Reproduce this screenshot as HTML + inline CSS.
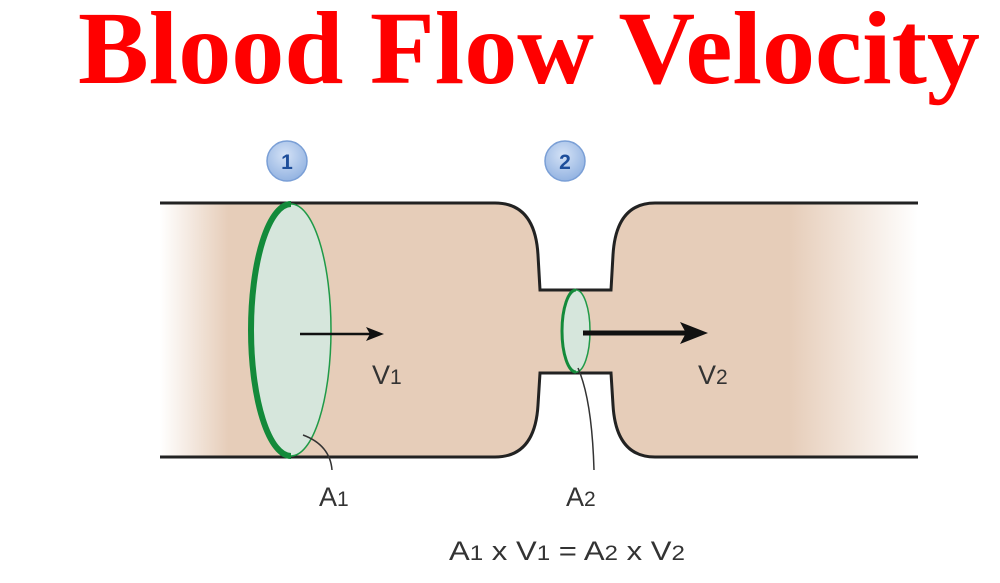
<!DOCTYPE html>
<html><head><meta charset="utf-8"><style>
html,body{margin:0;padding:0;background:#fff;}
svg{display:block;}
</style></head><body>
<svg width="1000" height="583" viewBox="0 0 1000 583" xmlns="http://www.w3.org/2000/svg">
<defs>
<linearGradient id="lg" x1="160" x2="918" y1="0" y2="0" gradientUnits="userSpaceOnUse">
<stop offset="0" stop-color="#fff"/>
<stop offset="0.09" stop-color="#e6cdb9"/>
<stop offset="0.83" stop-color="#e6cdb9"/>
<stop offset="1" stop-color="#fff"/>
</linearGradient>
<radialGradient id="cg" cx="0.45" cy="0.35" r="0.7">
<stop offset="0" stop-color="#d4e2f6"/>
<stop offset="1" stop-color="#8fb0e0"/>
</radialGradient>
</defs>
<text x="78" y="83" font-family="Liberation Serif, serif" font-weight="bold" font-size="104" fill="#ff0000" textLength="902" lengthAdjust="spacingAndGlyphs">Blood Flow Velocity</text>

<path d="M160,203 H495 Q535,203 538,255 L540,290 H611 L613,255 Q616,203 655,203 H918 V457 H655 Q616,457 613,405 L611,373 H540 L538,405 Q535,457 495,457 H160 Z" fill="url(#lg)"/>
<path d="M160,203 H495 Q535,203 538,255 L540,290 H611 L613,255 Q616,203 655,203 H918" fill="none" stroke="#222" stroke-width="3"/>
<path d="M160,457 H495 Q535,457 538,405 L540,373 H611 L613,405 Q616,457 655,457 H918" fill="none" stroke="#222" stroke-width="3"/>

<ellipse cx="291" cy="330" rx="40" ry="126" fill="#d6e6dc" stroke="#1f9a48" stroke-width="1.5"/>
<path d="M291,204 A40,126 0 0 0 291,456" fill="none" stroke="#138a3a" stroke-width="6"/>
<ellipse cx="576" cy="331" rx="14" ry="41" fill="#d6e6dc" stroke="#1f9a48" stroke-width="1.5"/>
<path d="M576,290 A14,41 0 0 0 576,372" fill="none" stroke="#138a3a" stroke-width="3"/>

<line x1="300" y1="334" x2="372" y2="334" stroke="#111" stroke-width="2.5"/>
<path d="M366,327 L384,334 L366,341 L370,334 Z" fill="#111"/>
<line x1="583" y1="333" x2="693" y2="333" stroke="#111" stroke-width="5"/>
<path d="M680,322 L708,333 L680,344 L686,333 Z" fill="#111"/>

<path d="M303,435 Q330,445 332,470" fill="none" stroke="#333" stroke-width="1.5"/>
<path d="M578,368 Q592,400 594,470" fill="none" stroke="#333" stroke-width="1.5"/>

<circle cx="287" cy="161" r="20" fill="url(#cg)" stroke="#7a9fd6" stroke-width="1.5"/>
<circle cx="565" cy="161" r="20" fill="url(#cg)" stroke="#7a9fd6" stroke-width="1.5"/>
<g font-family="Liberation Sans, sans-serif" fill="#1e4e9a" font-weight="bold" font-size="21" text-anchor="middle">
<text x="287" y="169">1</text><text x="565" y="169">2</text>
</g>

<g font-family="Liberation Sans, sans-serif" fill="#333" font-size="27">
<text x="372" y="384">V<tspan font-size="21">1</tspan></text>
<text x="698" y="384">V<tspan font-size="21">2</tspan></text>
<text x="319" y="506">A<tspan font-size="21">1</tspan></text>
<text x="566" y="506">A<tspan font-size="21">2</tspan></text>
<text x="449" y="560" textLength="236" lengthAdjust="spacingAndGlyphs">A<tspan font-size="21">1</tspan> x V<tspan font-size="21">1</tspan> = A<tspan font-size="21">2</tspan> x V<tspan font-size="21">2</tspan></text>
</g>
</svg>
</body></html>
